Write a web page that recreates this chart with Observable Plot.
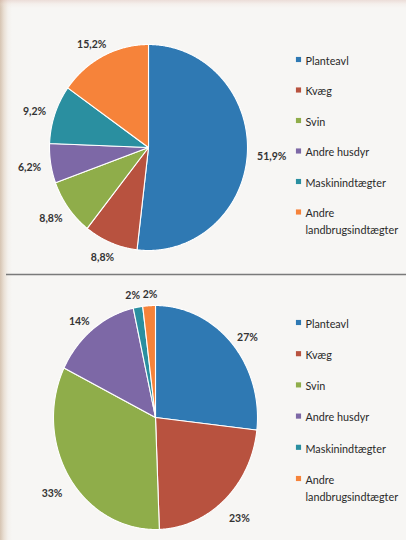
<!DOCTYPE html>
<html>
<head>
<meta charset="utf-8">
<script src="https://cdn.jsdelivr.net/npm/d3@7"></script>
<script src="https://cdn.jsdelivr.net/npm/@observablehq/plot@0.6"></script>
<style>
  html, body { margin: 0; padding: 0; }
  body {
    width: 406px; height: 540px; overflow: hidden;
    background:
      linear-gradient(to bottom, rgba(215,175,165,0.35) 0px, rgba(235,215,205,0.2) 4px, rgba(255,255,255,0) 8px),
      linear-gradient(to right, #d6c4b2 0px, #eae0d5 4px, #f4f1ed 8px, #f7f6f4 12px);
  }
  #chart svg { display: block; }
</style>
</head>
<body>
<div id="chart"></div>
<script>
// ---- data ----
const categories = ["Planteavl", "Kvæg", "Svin", "Andre husdyr", "Maskinindtægter", "Andre landbrugsindtægter"];
const legendLabels = ["Planteavl", "Kvæg", "Svin", "Andre husdyr", "Maskinindtægter", "Andre\nlandbrugsindtægter"];
const colors = ["#2f79b3", "#b8523f", "#8fad4a", "#7d68a6", "#2a8fa0", "#f6833a"];
const valuesTop = [51.9, 8.8, 8.8, 6.2, 9.2, 15.2];
const labelsTop = ["51,9%", "8,8%", "8,8%", "6,2%", "9,2%", "15,2%"];
const valuesBottom = [26.8, 22.6, 32.9, 14.2, 1.5, 2.0];
const labelsBottom = ["27%", "23%", "33%", "14%", "2%", "2%"];

// ---- layout ----
const W = 406, H = 540;
const panels = [
  {id: "a", values: valuesTop, labels: labelsTop, cx: 148, cy: 147, rx: 99, ry: 103, gap: 9, labelDy: 2, legX: 298, legY0: 59, legStep: 30.5},
  {id: "b", values: valuesBottom, labels: labelsBottom, cx: 155, cy: 417, rx: 102, ry: 112, gap: 12, labelDy: 6, legX: 298, legY0: 322, legStep: 31.2}
];
const dividerY = 274;

const slicePts = [];
const labelPts = [];
const legendPts = [];
for (const p of panels) {
  const arcs = d3.pie().sort(null).value(d => d)(p.values);
  const panelLabels = [];
  arcs.forEach((a, i) => {
    const key = p.id + i;
    const n = Math.max(2, Math.ceil((a.endAngle - a.startAngle) / 0.008));
    slicePts.push({key, cat: categories[i], x: p.cx, y: p.cy});
    for (let k = 0; k <= n; k++) {
      const t = a.startAngle + (a.endAngle - a.startAngle) * k / n;
      slicePts.push({key, cat: categories[i], x: p.cx + p.rx * Math.sin(t), y: p.cy - p.ry * Math.cos(t)});
    }
    slicePts.push({key, cat: categories[i], x: p.cx, y: p.cy});
    const mid = (a.startAngle + a.endAngle) / 2;
    const mx = Math.sin(mid), my = -Math.cos(mid);
    const txt = p.labels[i];
    const w = txt.length * 6.2, h = 11, g = p.gap;
    panelLabels.push({
      text: txt, w, h,
      x: p.cx + (p.rx + g) * mx + mx * w / 2,
      y: p.cy + (p.ry + g) * my + my * h / 2 + p.labelDy
    });
  });
  // push apart overlapping labels (simple collision relaxation)
  for (let iter = 0; iter < 20; iter++) {
    for (let i = 0; i < panelLabels.length; i++) {
      for (let j = i + 1; j < panelLabels.length; j++) {
        const A = panelLabels[i], B = panelLabels[j];
        if (Math.abs(A.y - B.y) >= (A.h + B.h) / 2) continue;
        const need = (A.w + B.w) / 2 + 5;
        const d = B.x - A.x;
        if (Math.abs(d) < need) {
          const s = (need - Math.abs(d)) / 2 * (d >= 0 ? 1 : -1);
          A.x -= s; B.x += s;
        }
      }
    }
  }
  labelPts.push(...panelLabels);
  categories.forEach((c, i) => {
    legendPts.push({cat: c, text: legendLabels[i], x: p.legX, y: p.legY0 + i * p.legStep});
  });
}

const chart = Plot.plot({
  width: W,
  height: H,
  margin: 0,
  x: {domain: [0, W], range: [0, W], axis: null},
  y: {domain: [0, H], range: [0, H], axis: null},
  color: {domain: categories, range: colors},
  style: {background: "transparent", fontFamily: "Lato, 'Open Sans', sans-serif"},
  marks: [
    Plot.ruleY([dividerY], {x1: 6, x2: W, stroke: "#7a7a7a", strokeWidth: 1.6}),
    Plot.line(slicePts, {x: "x", y: "y", z: "key", fill: "cat", stroke: "#ffffff", strokeWidth: 1.1, strokeLinejoin: "round", curve: "linear"}),
    Plot.text(labelPts, {x: "x", y: "y", text: "text", fontSize: 10.5, fontWeight: "bold", fill: "#333333"}),
    Plot.dot(legendPts, {x: "x", y: "y", symbol: "square", r: 2.9, fill: "cat", stroke: "none"}),
    Plot.text(legendPts, {x: "x", y: "y", text: "text", dx: 7, dy: -6.5, textAnchor: "start", lineAnchor: "top", lineHeight: 1.55, fontSize: 10.8, fill: "#2a2a2a"})
  ]
});
document.getElementById("chart").appendChild(chart);
</script>
</body>
</html>
